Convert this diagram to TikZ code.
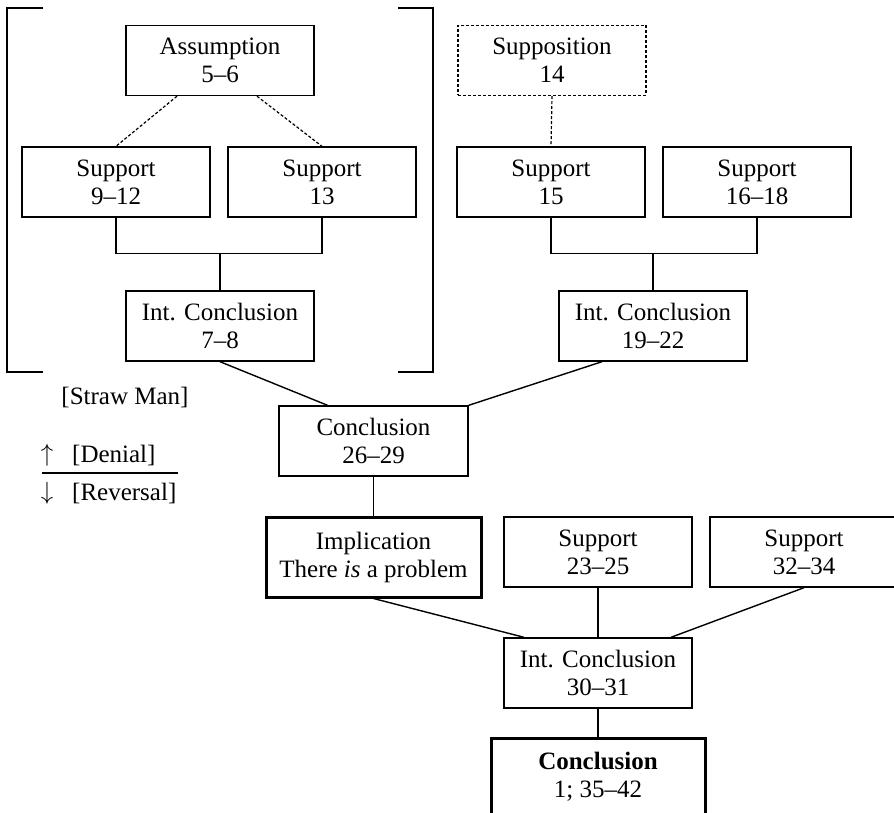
\documentclass[tikz,border=0pt]{standalone}
\usepackage{fontspec}
\setmainfont{Liberation Serif}
\usetikzlibrary{calc}
\begin{document}
\begin{tikzpicture}[x=1pt,y=-1pt,
  box/.style={draw,line width=1.4pt,minimum width=188pt,minimum height=70pt,inner sep=0pt,align=center,font=\fontsize{25}{28}\selectfont},
  heavy/.style={box,line width=3pt},
  dotbox/.style={box,line width=1.2pt,dash pattern=on 3pt off 2pt},
  link/.style={line width=1.4pt},
  dlink/.style={line width=1.2pt,dash pattern=on 3pt off 2pt},
  lbl/.style={inner sep=0pt,font=\fontsize{25}{28}\selectfont}]
\clip (0,0) rectangle (894,813);
\fill[white] (0,0) rectangle (894,813);

% brackets
\draw[link] (43,8) -- (7,8) -- (7,372) -- (43,372);
\draw[link] (398,8) -- (433,8) -- (433,372) -- (398,372);

% left group
\node[box] (A) at (220,60.5) {Assumption\\5--6};
\node[box] (S912) at (116,182) {Support\\9--12};
\node[box] (S13) at (322,182) {Support\\13};
\node[box] (IC78) at (220,326) {Int. Conclusion\\7--8};

% right group
\node[dotbox] (SP14) at (552,60.5) {Supposition\\14};
\node[box] (S15) at (551,182) {Support\\15};
\node[box] (S1618) at (757,182) {Support\\16--18};
\node[box] (IC1922) at (653,326) {Int. Conclusion\\19--22};

% middle
\node[box,minimum width=189pt] (C2629) at (373.5,441) {Conclusion\\26--29};
\node[heavy,minimum width=215pt,minimum height=80pt] (IMP) at (373.5,557) {Implication\\There \textit{is} a problem};
\node[box] (S2325) at (598,552) {Support\\23--25};
\node[box] (S3234) at (804,552) {Support\\32--34};
\node[box] (IC3031) at (598,673) {Int. Conclusion\\30--31};
\node[heavy,minimum width=214pt,minimum height=78pt] (CON) at (598,777) {\textbf{Conclusion}\\1; 35--42};

% legend
\node[lbl] (straw) at (125,397) {[Straw Man]};
\node[lbl] (up) at (47,455) {$\uparrow$};
\node[lbl,anchor=west] (den) at (72,455) {[Denial]};
\node[lbl] (down) at (47,493) {$\downarrow$};
\node[lbl,anchor=west] (rev) at (72,493) {[Reversal]};
\coordinate (legL) at (42,473);
\coordinate (legR) at (178,473);
\draw[link] (legL) -- (legR);

% connectors left group
\draw[dlink] ([xshift=-43pt]A.south) -- (S912.north);
\draw[dlink] ([xshift=37pt]A.south) -- (S13.north);
\coordinate (j1) at ([yshift=37pt]IC78.north);
\draw[link] (S912.south) |- (j1) -| (S13.south);
\draw[link] (j1) -- (IC78.north);

% connectors right group
\draw[dlink] (SP14.south) -- (S15.north);
\coordinate (j2) at ([yshift=37pt]IC1922.north);
\draw[link] (S15.south) |- (j2) -| (S1618.south);
\draw[link] (j2) -- (IC1922.north);

% to conclusion 26-29
\draw[link] (IC78.south) -- ([xshift=-46pt]C2629.north);
\draw[link] ([xshift=-51pt]IC1922.south) -- (C2629.north east);
\draw[link] (C2629.south) -- (IMP.north);

% to int conclusion 30-31
\draw[link] (IMP.south) -- ([xshift=-74pt]IC3031.north);
\draw[link] (S2325.south) -- (IC3031.north);
\draw[link] (S3234.south) -- ([xshift=73pt]IC3031.north);
\draw[link] (IC3031.south) -- (CON.north);
\end{tikzpicture}
\end{document}
